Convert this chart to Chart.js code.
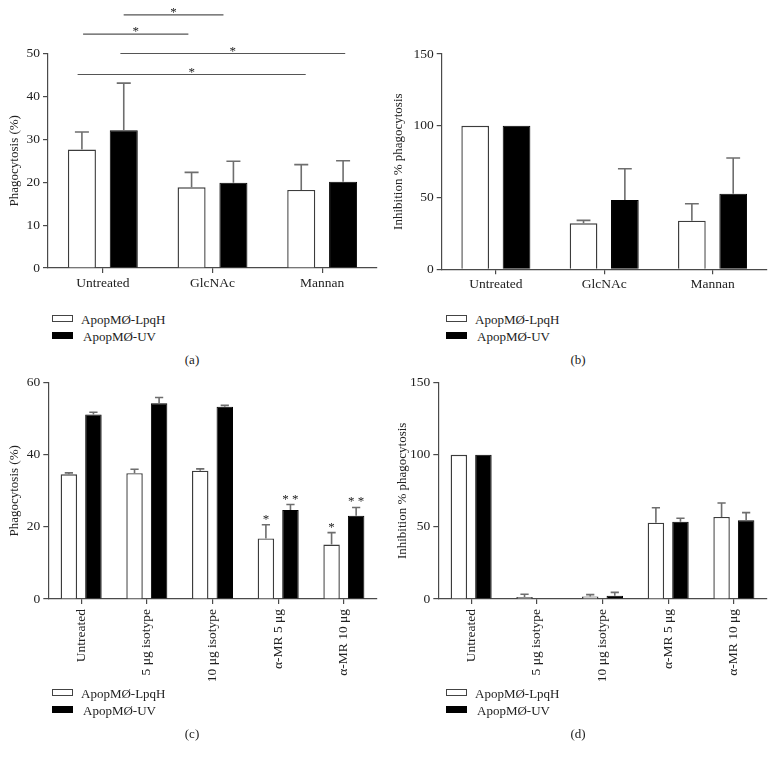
<!DOCTYPE html>
<html><head><meta charset="utf-8">
<script src="https://cdn.jsdelivr.net/npm/chart.js@4.4.0/dist/chart.umd.min.js"></script>
<style>
body{margin:0;background:#fff;width:776px;height:760px;position:relative;overflow:hidden;font-family:"Liberation Serif",serif;color:#222}
.pane{position:absolute}
.lt{position:absolute;font-size:13px;line-height:13px;white-space:nowrap}
.sw{position:absolute;width:19px;height:5px;border:1px solid #444}
.cap{position:absolute;font-size:13px;line-height:13px;transform:translateX(-50%)}
</style></head><body>
<canvas id="ca" class="pane" width="388" height="300" style="left:0;top:0"></canvas>
<canvas id="cb" class="pane" width="388" height="300" style="left:388px;top:0"></canvas>
<canvas id="cc" class="pane" width="388" height="320" style="left:0;top:370px"></canvas>
<canvas id="cd" class="pane" width="388" height="320" style="left:388px;top:370px"></canvas>
<div id="legs"></div>
<script>
// ---- data ----
const seriesNames = ['ApopMØ-LpqH', 'ApopMØ-UV'];
const catsAB = ['Untreated', 'GlcNAc', 'Mannan'];
const catsCD = ['Untreated', '5 μg isotype', '10 μg isotype', 'α-MR 5 μg', 'α-MR 10 μg'];

const aLpqH = [27.6, 18.8, 18.2];
const aLpqHErr = [4.1, 3.5, 5.9];
const aUV = [32.1, 19.9, 20.1];
const aUVErr = [11.0, 5.0, 4.9];

const bLpqH = [100, 32.0, 33.9];
const bLpqHErr = [0, 2.1, 11.8];
const bUV = [100, 48.3, 52.7];
const bUVErr = [0, 21.8, 24.8];

const cLpqH = [34.6, 34.9, 35.6, 16.8, 15.1];
const cLpqHErr = [0.4, 1.1, 0.5, 3.8, 3.3];
const cUV = [51.2, 54.3, 53.3, 24.7, 23.1];
const cUVErr = [0.6, 1.6, 0.4, 1.5, 2.3];
const cLpqHStars = ['', '', '', '*', '*'];
const cUVStars = ['', '', '', '* *', '* *'];

const dLpqH = [100, 1.4, 1.8, 52.9, 56.9];
const dLpqHErr = [0, 1.9, 1.2, 10.4, 9.7];
const dUV = [100, 0, 2.3, 53.6, 54.6];
const dUVErr = [0, 0, 2.3, 2.4, 5.3];

// significance brackets in panel (a): [from category pos, to category pos, y value]
const aSigFrom = [0.19, -0.18, 0.16, -0.23];
const aSigTo = [1.10, 0.78, 2.21, 1.85];
const aSigY = [59.0, 54.5, 50.0, 45.1];

const yTicksA = [0, 10, 20, 30, 40, 50];
const yTicksB = [0, 50, 100, 150];
const yTicksC = [0, 20, 40, 60];
const yTicksD = [0, 50, 100, 150];

// ---- drawing ----
const FONT = 'Liberation Serif';
const TXT = '#222';
const AX = '#4a4a4a';

const errPlugin = {
  id: 'errbars',
  afterDatasetsDraw(chart, args, opts) {
    const ctx = chart.ctx;
    const ys = chart.scales.y;
    ctx.save();
    chart.data.datasets.forEach((ds, di) => {
      const meta = chart.getDatasetMeta(di);
      meta.data.forEach((bar, i) => {
        const e = ds.err ? ds.err[i] : 0;
        const v = ds.data[i];
        const top = ys.getPixelForValue(v + e);
        if (e > 0) {
          const cw = bar.width * 0.5;
          ctx.strokeStyle = '#6e6e6e';
          ctx.lineWidth = 1.6;
          ctx.beginPath();
          ctx.moveTo(bar.x, ys.getPixelForValue(v));
          ctx.lineTo(bar.x, top);
          ctx.moveTo(bar.x - cw / 2, top);
          ctx.lineTo(bar.x + cw / 2, top);
          ctx.stroke();
        }
        if (ds.stars && ds.stars[i]) {
          ctx.fillStyle = TXT;
          ctx.font = '13px ' + FONT;
          ctx.textAlign = 'center';
          ctx.textBaseline = 'alphabetic';
          ctx.fillText(ds.stars[i], bar.x, top - 2);
        }
      });
    });
    if (opts && opts.sig) {
      const xs = chart.scales.x;
      const s = opts.sig;
      s.from.forEach((f, k) => {
        const x1 = xs.getPixelForValue(f), x2 = xs.getPixelForValue(s.to[k]);
        const y = ys.getPixelForValue(s.y[k]);
        ctx.strokeStyle = '#555';
        ctx.lineWidth = 1.2;
        ctx.beginPath();
        ctx.moveTo(x1, y); ctx.lineTo(x2, y); ctx.stroke();
        ctx.fillStyle = TXT;
        ctx.font = '13px ' + FONT;
        ctx.textAlign = 'center';
        ctx.textBaseline = 'alphabetic';
        ctx.fillText('*', (x1 + x2) / 2, y + 1);
      });
    }
    ctx.restore();
  }
};

function makeChart(id, cfg) {
  const datasets = [
    { label: seriesNames[0], data: cfg.v1, err: cfg.e1, stars: cfg.s1,
      backgroundColor: '#fff', borderColor: '#3c3c3c', borderWidth: 1.4,
      categoryPercentage: cfg.catPct, barPercentage: 0.67 },
    { label: seriesNames[1], data: cfg.v2, err: cfg.e2, stars: cfg.s2,
      backgroundColor: '#000', borderColor: '#000', borderWidth: 1,
      categoryPercentage: cfg.catPct, barPercentage: 0.67 }
  ];
  return new Chart(document.getElementById(id), {
    type: 'bar',
    data: { labels: cfg.labels, datasets },
    options: {
      responsive: false, animation: false,
      layout: { padding: { top: cfg.top, right: cfg.right, bottom: 0, left: 0 } },
      plugins: { legend: { display: false }, tooltip: { enabled: false }, errbars: { sig: cfg.sig } },
      scales: {
        x: {
          offset: true,
          grid: { display: true, drawOnChartArea: false, drawTicks: true, tickLength: 5, offset: false, color: AX, lineWidth: 1.2 },
          border: { display: true, color: AX, width: 1.2 },
          ticks: { color: TXT, font: { family: FONT, size: 13.5 }, padding: cfg.rot ? 5 : 2,
                   autoSkip: false, minRotation: cfg.rot ? 90 : 0, maxRotation: cfg.rot ? 90 : 0 },
          afterFit: s => { s.height = cfg.xh; }
        },
        y: {
          min: 0, max: cfg.max,
          afterBuildTicks: s => { s.ticks = cfg.yt.map(v => ({ value: v })); },
          grid: { display: true, drawOnChartArea: false, drawTicks: true, tickLength: 5, color: AX, lineWidth: 1.2 },
          border: { display: true, color: AX, width: 1.2 },
          ticks: { color: TXT, font: { family: FONT, size: 13.5 }, padding: 3 },
          title: { display: true, text: cfg.ytitle, color: TXT, font: { family: FONT, size: 13 }, padding: { top: cfg.tpad, bottom: 0 } },
          afterFit: s => { s.width = cfg.yw; }
        }
      }
    },
    plugins: [errPlugin]
  });
}

makeChart('ca', { labels: catsAB, v1: aLpqH, e1: aLpqHErr, v2: aUV, e2: aUVErr,
  max: 50, yt: yTicksA, ytitle: 'Phagocytosis (%)', top: 53.5, right: 11, xh: 32, yw: 48, tpad: 7.2,
  catPct: 0.763, sig: { from: aSigFrom, to: aSigTo, y: aSigY } });
makeChart('cb', { labels: catsAB, v1: bLpqH, e1: bLpqHErr, v2: bUV, e2: bUVErr,
  max: 150, yt: yTicksB, ytitle: 'Inhibition % phagocytosis', top: 54, right: 9.3, xh: 30.7, yw: 53.7, tpad: 3.2,
  catPct: 0.763 });
makeChart('cc', { labels: catsCD, v1: cLpqH, e1: cLpqHErr, v2: cUV, e2: cUVErr, s1: cLpqHStars, s2: cUVStars,
  max: 60, yt: yTicksC, ytitle: 'Phagocytosis (%)', top: 12.7, right: 11.3, xh: 91, yw: 48.3, tpad: 7.2,
  catPct: 0.748, rot: true });
makeChart('cd', { labels: catsCD, v1: dLpqH, e1: dLpqHErr, v2: dUV, e2: dUVErr,
  max: 150, yt: yTicksD, ytitle: 'Inhibition % phagocytosis', top: 12.7, right: 9.3, xh: 91, yw: 50.3, tpad: 6.5,
  catPct: 0.748, rot: true });

// legends & captions
const legendSpots = [
  { x: 52, y: 315, tx: 81, cap: '(a)', cx: 192, cy: 353 },
  { x: 446, y: 315, tx: 475, cap: '(b)', cx: 578, cy: 353 },
  { x: 52, y: 689, tx: 81, cap: '(c)', cx: 192, cy: 727 },
  { x: 446, y: 689, tx: 475, cap: '(d)', cx: 578, cy: 727 }
];
const legs = document.getElementById('legs');
legendSpots.forEach(p => {
  seriesNames.forEach((n, k) => {
    const sw = document.createElement('div');
    sw.className = 'sw';
    sw.style.left = p.x + 'px';
    sw.style.top = (p.y + k * 17) + 'px';
    sw.style.background = k ? '#000' : '#fff';
    if (k) sw.style.borderColor = '#000';
    legs.appendChild(sw);
    const t = document.createElement('div');
    t.className = 'lt';
    t.textContent = n;
    t.style.left = (p.tx + k * 2) + 'px';
    t.style.top = (p.y - 2.5 + k * 17) + 'px';
    legs.appendChild(t);
  });
  const c = document.createElement('div');
  c.className = 'cap';
  c.textContent = p.cap;
  c.style.left = p.cx + 'px';
  c.style.top = p.cy + 'px';
  legs.appendChild(c);
});
</script>
</body></html>
